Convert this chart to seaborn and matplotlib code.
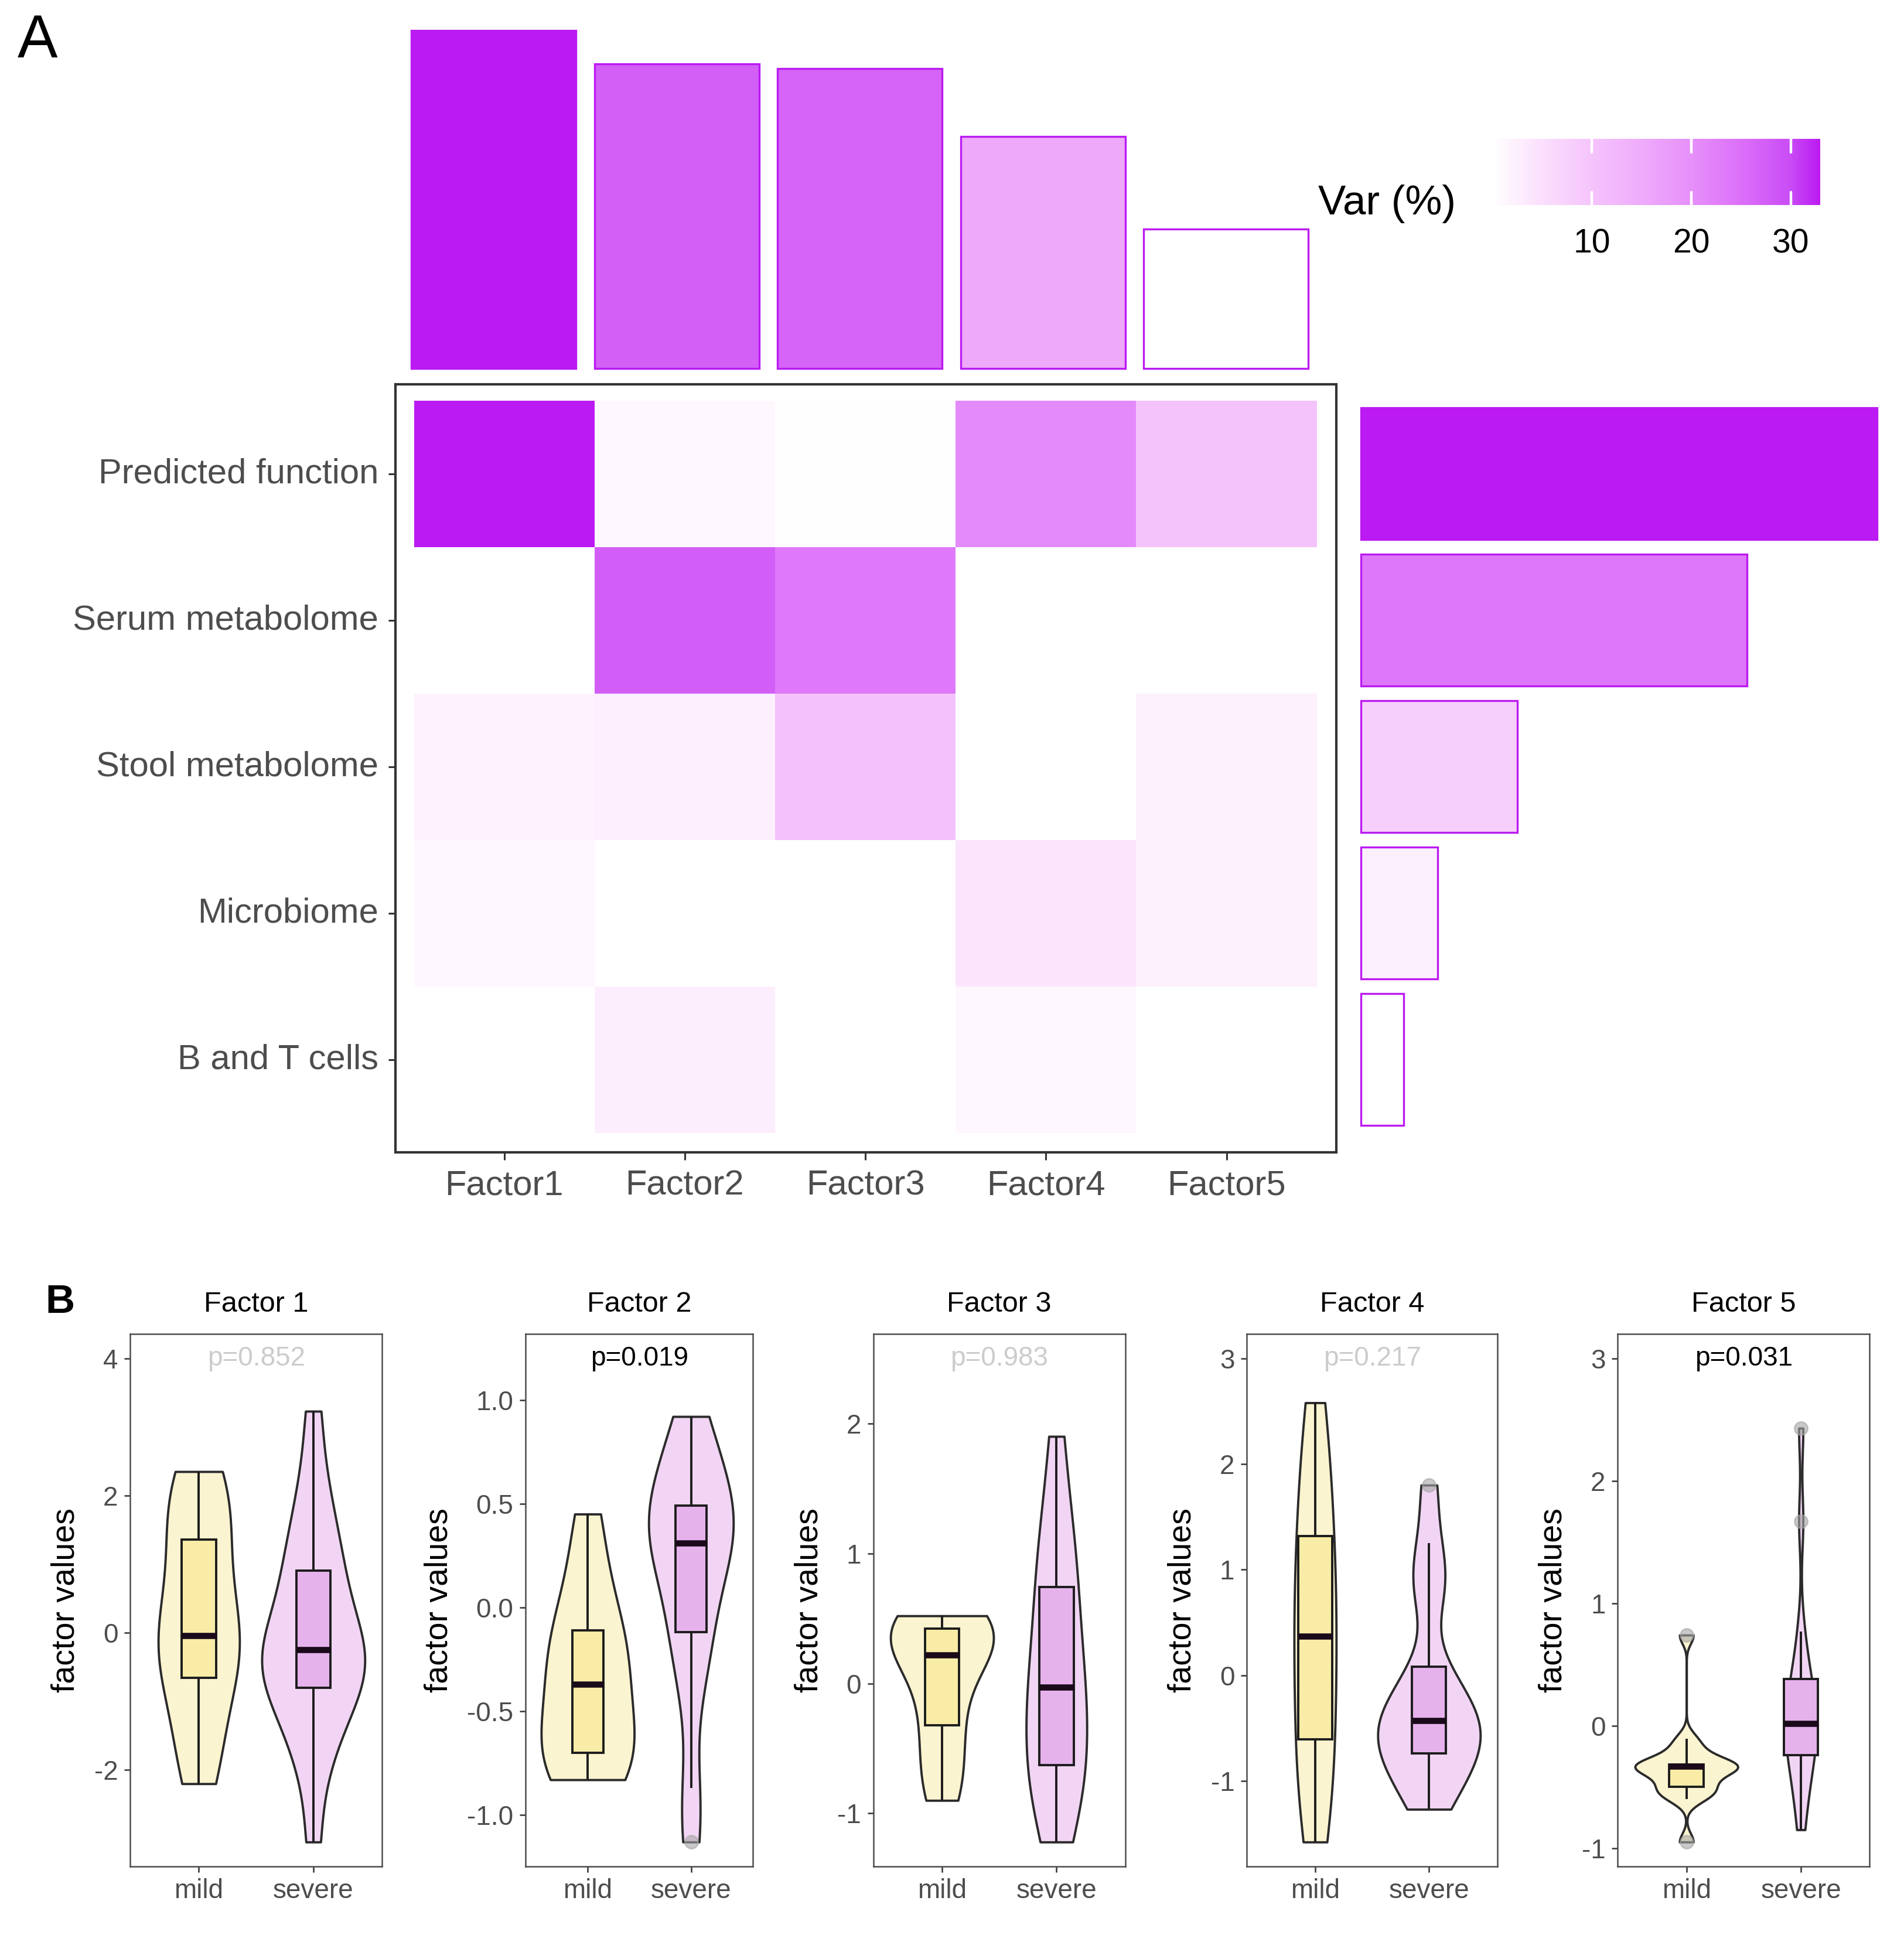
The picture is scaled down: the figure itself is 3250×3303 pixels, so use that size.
import numpy as np
import pandas as pd
import matplotlib
matplotlib.use("Agg")
import matplotlib.pyplot as plt
import matplotlib.cm as cm
from matplotlib.colors import LinearSegmentedColormap, Normalize
import seaborn as sns

# ---------------- panel A: variance explained ----------------
views = ["Predicted function", "Serum metabolome", "Stool metabolome", "Microbiome", "B and T cells"]
factors = ["Factor1", "Factor2", "Factor3", "Factor4", "Factor5"]

var_pred = [33.0, 1.2, 0.2, 21.0, 10.0]
var_serum = [0.0, 27.5, 23.5, 0.0, 0.1]
var_stool = [2.0, 2.5, 10.5, 0.0, 2.2]
var_micro = [1.4, 0.0, 0.1, 4.0, 2.3]
var_bt = [0.1, 2.6, 0.1, 1.4, 0.1]

var_factor_total = [36.5, 32.9, 32.4, 25.1, 15.1]
var_view_total = [65.4, 48.9, 19.8, 9.7, 5.4]

cbar_ticks = [10, 20, 30]

# ---------------- panel B: factor values by severity ----------------
groups = ["mild", "severe"]
f1_mild = [-2.2, -1.9, -1.5, -1.0, -0.66, -0.4, -0.25, -0.1, -0.04, 0.3, 0.7, 1.0, 1.36, 1.7, 2.0, 2.2, 2.35]
f1_severe = [-3.05, -2.0, -1.6, -1.3, -1.0, -0.8, -0.7, -0.55, -0.45, -0.35, -0.25, -0.1, 0.1, 0.35, 0.6,
             0.91, 1.1, 1.4, 1.8, 2.3, 3.23]
f2_mild = [-0.83, -0.8, -0.76, -0.70, -0.6, -0.5, -0.37, -0.3, -0.2, -0.11, 0.0, 0.2, 0.45]
f2_severe = [-1.13, -0.87, -0.4, -0.2, -0.12, 0.05, 0.15, 0.25, 0.31, 0.38, 0.42, 0.46, 0.49, 0.6, 0.7, 0.8, 0.92]
f3_mild = [-0.9, -0.75, -0.5, -0.32, -0.1, 0.1, 0.22, 0.3, 0.38, 0.42, 0.46, 0.5, 0.52]
f3_severe = [-1.22, -1.0, -0.85, -0.7, -0.63, -0.45, -0.3, -0.15, -0.03, 0.1, 0.3, 0.5, 0.74, 0.9, 1.1, 1.4, 1.9]
f4_mild = [-1.58, -1.2, -0.9, -0.61, -0.2, 0.1, 0.37, 0.7, 1.0, 1.32, 1.7, 2.1, 2.58]
f4_severe = [-1.27, -1.1, -0.95, -0.85, -0.74, -0.65, -0.58, -0.5, -0.43, -0.35, -0.25, -0.1, 0.08, 0.75, 0.92,
             1.25, 1.8]
f5_mild = [-0.95, -0.60, -0.56, -0.53, -0.50, -0.45, -0.40, -0.36, -0.333, -0.33, -0.325, -0.32, -0.316,
           -0.25, -0.18, -0.105, 0.74]
f5_severe = [-0.85, -0.6, -0.45, -0.35, -0.24, -0.15, -0.08, -0.02, 0.02, 0.1, 0.2, 0.3, 0.38, 0.5, 0.77,
             1.67, 2.43]

p_labels = ["p=0.852", "p=0.019", "p=0.983", "p=0.217", "p=0.031"]
p_signif = [False, True, False, False, True]
p_label_y = [4.0, 1.2, 2.5, 3.0, 3.0]
panel_yticks = [[-2, 0, 2, 4], [-1.0, -0.5, 0.0, 0.5, 1.0], [-1, 0, 1, 2], [-1, 0, 1, 2, 3], [-1, 0, 1, 2, 3]]
panel_yticklabels = [["-2", "0", "2", "4"], ["-1.0", "-0.5", "0.0", "0.5", "1.0"], ["-1", "0", "1", "2"],
                     ["-1", "0", "1", "2", "3"], ["-1", "0", "1", "2", "3"]]

# ---------------- styles ----------------
purple = "#bb1af2"
cmap = LinearSegmentedColormap.from_list(
    "var", [(0.0, "#ffffff"), (0.145, "#fbe0fc"), (0.303, "#f5c3fc"), (0.445, "#efadfb"),
            (0.606, "#e690fa"), (0.758, "#dc70f9"), (0.909, "#c94cf5"), (1.0, purple)])
violin_fill = {"mild": "#fbf4d0", "severe": "#f2d5f4"}
box_fill = {"mild": "#f8eca6", "severe": "#e6b2ec"}
violin_width = [[0.71, 0.9], [0.9, 0.82], [0.9, 0.53], [0.37, 0.9], [0.9, 0.27]]

sns.set_theme(style="white")
plt.rcParams["font.family"] = ["Liberation Sans", "DejaVu Sans"]
plt.rcParams["axes.unicode_minus"] = False

W, H = 1550, 1575  # layout grid in reference units


def place(x0, y0, x1, y1):
    return [x0 / W, 1 - y1 / H, (x1 - x0) / W, (y1 - y0) / H]


def nrd0_factor(vals):
    # R's default bandwidth, expressed as a gaussian_kde factor
    v = np.asarray(vals, dtype=float)
    sd = v.std(ddof=1)
    q75, q25 = np.percentile(v, [75, 25])
    return 0.9 * min(sd, (q75 - q25) / 1.34) * len(v) ** -0.2 / sd


def own_range_colors(vals):
    v = np.asarray(vals, dtype=float)
    t = (v - v.min()) / (v.max() - v.min())
    return [cmap(x) for x in t]


fig = plt.figure(figsize=(16.25, 16.515), dpi=200)

# heatmap
heat = pd.DataFrame([var_pred, var_serum, var_stool, var_micro, var_bt], index=views, columns=factors)
ax_h = fig.add_axes(place(322, 313, 1088, 938))
sns.heatmap(heat, ax=ax_h, cmap=cmap, vmin=0, vmax=33, cbar=False, linewidths=0)
ax_h.set_xlim(-0.102, 5.109)
ax_h.set_ylim(5.134, -0.109)
for s in ax_h.spines.values():
    s.set_visible(True)
    s.set_color("#333333")
    s.set_linewidth(1.5)
ax_h.set_xlabel("")
ax_h.set_ylabel("")
ax_h.tick_params(axis="both", bottom=True, left=True, length=4.5, width=1.1, color="#333333",
                 labelsize=21.5, labelcolor="#4d4d4d", pad=6)
ax_h.set_yticklabels(views, rotation=0)
ax_h.set_xticklabels(factors, rotation=0)

# top bars: total variance per factor
ax_t = fig.add_axes(place(327.5, 25, 1072.5, 300))
sns.barplot(x=factors, y=var_factor_total, hue=factors, palette=own_range_colors(var_factor_total),
            width=0.9, saturation=1, edgecolor=purple, linewidth=1.2, legend=False, ax=ax_t)
ax_t.set_xlim(-0.5, 4.5)
ax_t.set_ylim(0, max(var_factor_total))
for p in ax_t.patches:
    p.set_clip_on(False)
ax_t.axis("off")

# right bars: total variance per view
ax_r = fig.add_axes(place(1108, 313, 1528, 938))
sns.barplot(y=views, x=var_view_total, hue=views, palette=own_range_colors(var_view_total), orient="h",
            width=0.9, saturation=1, edgecolor=purple, linewidth=1.2, legend=False, ax=ax_r)
ax_r.set_xlim(0, max(var_view_total))
ax_r.set_ylim(5.134 - 0.5, -0.109 - 0.5)
for p in ax_r.patches:
    p.set_clip_on(False)
ax_r.axis("off")

# colour bar
cax = fig.add_axes(place(1215, 113, 1482, 167))
sm = cm.ScalarMappable(norm=Normalize(0, 33), cmap=cmap)
cb = fig.colorbar(sm, cax=cax, orientation="horizontal")
cb.outline.set_visible(False)
cb.set_ticks(cbar_ticks)
cax.tick_params(length=0, labelsize=20.5, pad=14, labelcolor="black")
for t in cbar_ticks:
    cax.axvline(t, 0, 0.2, color="white", lw=1.6)
    cax.axvline(t, 0.8, 1, color="white", lw=1.6)
fig.text(1073 / W, 1 - 166 / H, "Var (%)", fontsize=25.5, ha="left", va="center", color="black")

fig.text(14 / W, 1 - 34 / H, "A", fontsize=37, ha="left", va="center", color="black")
fig.text(37 / W, 1 - 1060 / H, "B", fontsize=25, fontweight="bold", ha="left", va="center", color="black")

# violins
panel_x = [(106, 311), (428, 613), (711, 916), (1015, 1219), (1317, 1522)]
panel_data = [(f1_mild, f1_severe), (f2_mild, f2_severe), (f3_mild, f3_severe),
              (f4_mild, f4_severe), (f5_mild, f5_severe)]

for i, ((x0, x1), (mild, severe)) in enumerate(zip(panel_x, panel_data)):
    ax = fig.add_axes(place(x0, 1086, x1, 1519))
    df = pd.DataFrame({"group": ["mild"] * len(mild) + ["severe"] * len(severe), "value": mild + severe})
    for j, (g, vals) in enumerate(zip(groups, (mild, severe))):
        sns.violinplot(data=df[df["group"] == g], x="group", y="value", order=groups, cut=0, inner=None,
                       density_norm="width", width=violin_width[i][j], bw_method=nrd0_factor(vals),
                       color=violin_fill[g], linecolor="#2b2b2b", linewidth=1.4, saturation=1, ax=ax)
    sns.boxplot(data=df, x="group", y="value", order=groups, hue="group", palette=box_fill, width=0.3,
                saturation=1, linecolor="#1c1c1c", linewidth=1.4, showcaps=False, fliersize=8,
                medianprops=dict(linewidth=3.8, color="#1a0a1a"),
                flierprops=dict(marker="o", markerfacecolor="#a6a6a6", markeredgecolor="#a6a6a6",
                                alpha=0.6, zorder=5),
                legend=False, ax=ax)

    lo = min(min(mild), min(severe))
    hi = max(p_label_y[i], max(mild), max(severe))
    span = hi - lo
    ax.set_xlim(-0.6, 1.6)
    ax.set_ylim(lo - 0.05 * span, hi + 0.05 * span)
    ax.set_yticks(panel_yticks[i])
    ax.set_yticklabels(panel_yticklabels[i])
    ax.set_xticks([0, 1])
    ax.set_xticklabels(groups)
    ax.tick_params(axis="both", bottom=True, left=True, length=3.5, width=0.9, color="#333333",
                   labelsize=16.5, labelcolor="#4d4d4d", pad=4)
    for s in ax.spines.values():
        s.set_visible(True)
        s.set_color("#4d4d4d")
        s.set_linewidth(0.9)
    ax.set_xlabel("")
    ax.set_ylabel("factor values", fontsize=20, color="black", labelpad=8)
    ax.set_title(f"Factor {i + 1}", fontsize=17.5, pad=14, color="black")
    ax.text(0.5, p_label_y[i], p_labels[i], ha="center", va="center", fontsize=16.5,
            color="black" if p_signif[i] else "#cccccc")

fig.savefig("out.png", dpi=200)
